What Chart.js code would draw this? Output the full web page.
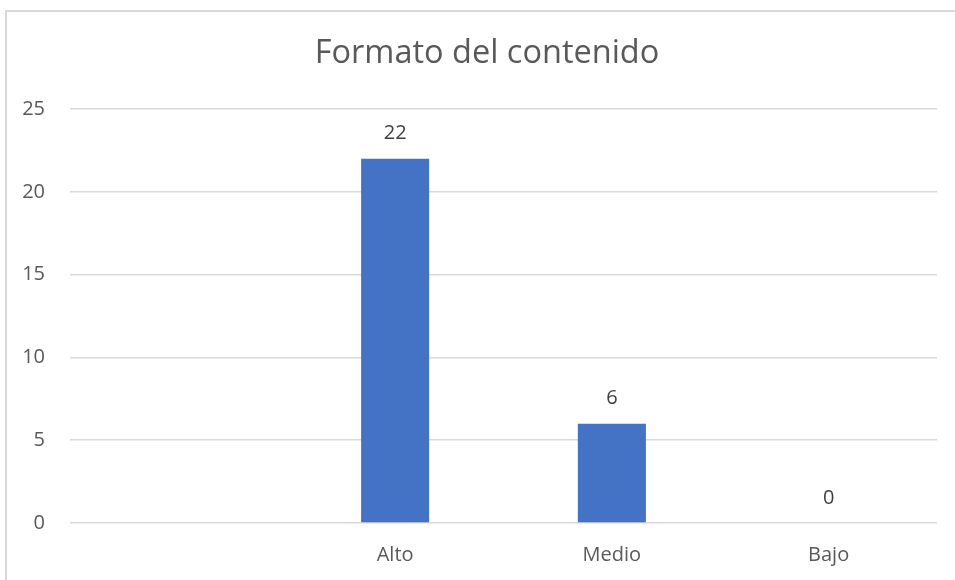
<!DOCTYPE html>
<html>
<head>
<meta charset="utf-8">
<script src="https://cdn.jsdelivr.net/npm/chart.js@4"></script>
<style>
  body { margin: 0; background: #fff; }
  #wrap { position: relative; width: 955px; height: 580px; }
  #frame { position: absolute; left: 5px; top: 10px; right: -10px; bottom: -10px;
           border-left: 2px solid #d9d9d9; border-top: 2px solid #d9d9d9; pointer-events: none; }
</style>
</head>
<body>
<div id="wrap">
  <canvas id="chart" width="955" height="580"></canvas>
  <div id="frame"></div>
</div>
<script>
const categories = ['', 'Alto', 'Medio', 'Bajo'];
const values = [null, 22, 6, 0];
const yTicks = [0, 5, 10, 15, 20, 25];
const chartTitle = 'Formato del contenido';

const textColor = '#595959';
const fontFamily = '"Open Sans", "Liberation Sans", sans-serif';

// value labels above each bar, and the title centred on the whole frame
const valueLabels = {
  id: 'valueLabels',
  afterDatasetsDraw(chart) {
    const ctx = chart.ctx;
    const meta = chart.getDatasetMeta(0);
    ctx.save();
    ctx.fillStyle = '#404040';
    ctx.font = '20px ' + fontFamily;
    ctx.textAlign = 'center';
    ctx.textBaseline = 'middle';
    meta.data.forEach((bar, i) => {
      if (values[i] === null) return;
      ctx.fillText(String(values[i]), bar.x, bar.y - 25);
    });
    ctx.fillStyle = textColor;
    ctx.font = '32.5px ' + fontFamily;
    ctx.fillText(chartTitle, 487, 54);
    ctx.restore();
  }
};

new Chart(document.getElementById('chart'), {
  type: 'bar',
  data: {
    labels: categories,
    datasets: [{
      data: values,
      backgroundColor: '#4472c4',
      categoryPercentage: 1,
      barPercentage: 0.314
    }]
  },
  options: {
    responsive: false,
    animation: false,
    layout: { padding: { left: 0, right: 18, top: 109, bottom: 12 } },
    plugins: {
      legend: { display: false },
      tooltip: { enabled: false },
      title: { display: false }
    },
    scales: {
      x: {
        afterFit(scale) { scale.height = 45; },
        grid: { display: false, drawTicks: false },
        border: { display: false },
        ticks: { color: textColor, font: { family: fontFamily, size: 20 }, padding: 20 }
      },
      y: {
        min: 0,
        max: 25,
        afterBuildTicks(scale) { scale.ticks = yTicks.map(v => ({ value: v })); },
        afterFit(scale) { scale.width = 70; },
        grid: { color: '#d9d9d9', lineWidth: 1.5, drawTicks: false },
        border: { display: false },
        ticks: { color: textColor, font: { family: fontFamily, size: 20 }, padding: 25 }
      }
    }
  },
  plugins: [valueLabels]
});
</script>
</body>
</html>
